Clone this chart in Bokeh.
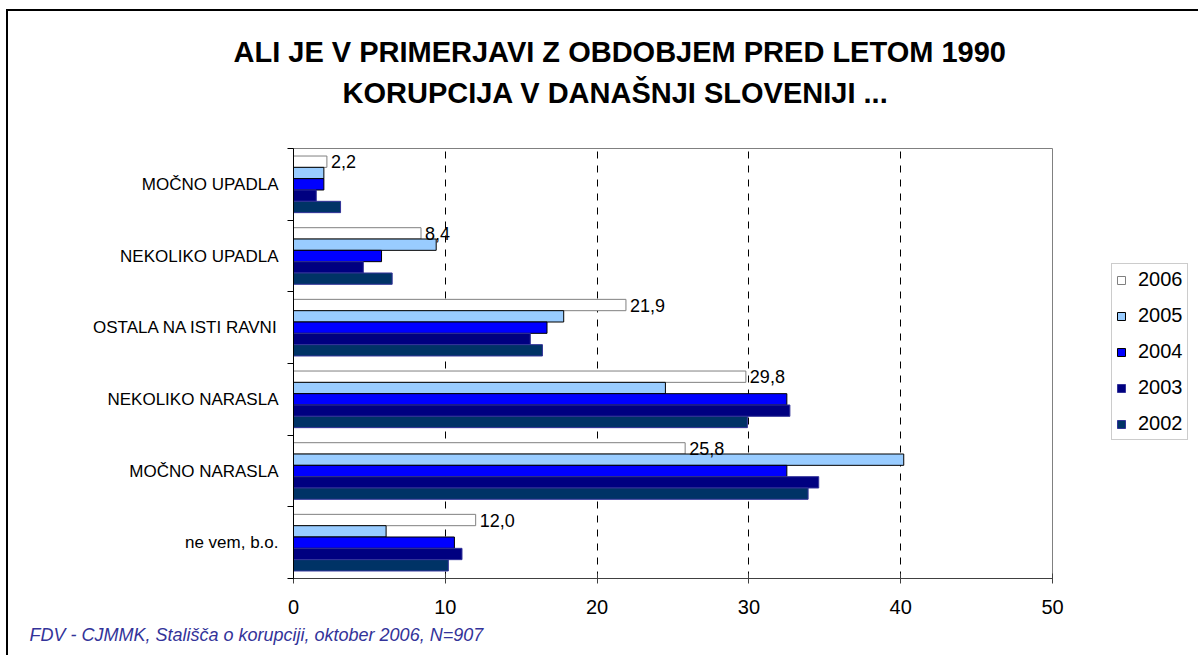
from bokeh.plotting import figure
from bokeh.layouts import row
from bokeh.models import (Range1d, FixedTicker, Legend, LegendItem, Title)
from bokeh.core.properties import value
from bokeh.embed import file_html
from bokeh.resources import INLINE

# ---- data ----
categories = ["MOČNO UPADLA", "NEKOLIKO UPADLA", "OSTALA NA ISTI RAVNI",
              "NEKOLIKO NARASLA", "MOČNO NARASLA", "ne vem, b.o."]
years = ["2006", "2005", "2004", "2003", "2002"]
v2006 = [2.2, 8.4, 21.9, 29.8, 25.8, 12.0]
v2005 = [2.0, 9.4, 17.8, 24.5, 40.2, 6.1]
v2004 = [2.0, 5.8, 16.7, 32.5, 32.5, 10.6]
v2003 = [1.5, 4.6, 15.6, 32.7, 34.6, 11.1]
v2002 = [3.1, 6.5, 16.4, 29.9, 33.9, 10.2]
x_ticks = [0, 10, 20, 30, 40, 50]
title1 = "ALI JE V PRIMERJAVI Z OBDOBJEM PRED LETOM 1990"
title2 = "KORUPCIJA V DANAŠNJI SLOVENIJI ..."
footer = "FDV - CJMMK, Stališča o korupciji, oktober 2006, N=907"

series = [v2006, v2005, v2004, v2003, v2002]
fills = ["#FFFFFF", "#99CCFF", "#0000FF", "#000080", "#003366"]
lines = ["#808080", "#000000", "#000000", "#333399", "#333399"]

FONT = "Liberation Sans"
n = len(categories)
centers = [n - 0.5 - i for i in range(n)]
bar_h = 0.158

p = figure(width=1102, height=644, output_backend="svg", toolbar_location=None,
           x_range=Range1d(0, 50), y_range=Range1d(0, n),
           min_border_left=285, min_border_right=58,
           min_border_top=137, min_border_bottom=77)
p.background_fill_color = "white"
p.border_fill_color = "white"
p.outline_line_color = "#808080"
p.outline_line_width = 1

for j, (yr, vals) in enumerate(zip(years, series)):
    ys = [c + (2 - j) * bar_h for c in centers]
    p.hbar(y=ys, right=vals, left=0, height=bar_h,
           fill_color=fills[j], line_color=lines[j], line_width=1)

# data labels for 2006
ys2006 = [c + 2 * bar_h for c in centers]
lab = [f"{v:.1f}".replace(".", ",") for v in v2006]
p.text(x=v2006, y=ys2006, text=lab, x_offset=4, text_baseline="middle",
       text_align="left", text_font=value(FONT), text_font_size="18px",
       text_color="black")

# x axis
p.xaxis.ticker = FixedTicker(ticks=x_ticks)
p.xaxis.axis_line_color = "#404040"
p.xaxis.major_tick_line_color = "#404040"
p.xaxis.major_tick_in = 5
p.xaxis.major_tick_out = 5
p.xaxis.minor_tick_line_color = None
p.xaxis.major_label_standoff = 16
p.xaxis.major_label_text_font = FONT
p.xaxis.major_label_text_font_size = "20px"
p.xaxis.major_label_text_color = "black"

# y axis: labels at centres, ticks at category boundaries
p.yaxis.ticker = FixedTicker(ticks=centers, minor_ticks=list(range(n + 1)))
p.yaxis.major_label_overrides = {c: categories[i] for i, c in enumerate(centers)}
p.yaxis.major_tick_line_color = None
p.yaxis.major_tick_in = 0
p.yaxis.major_tick_out = 0
p.yaxis.minor_tick_line_color = "black"
p.yaxis.minor_tick_in = 0
p.yaxis.minor_tick_out = 6
p.yaxis.axis_line_color = "black"
p.yaxis.major_label_standoff = 9
p.yaxis.major_label_text_font = FONT
p.yaxis.major_label_text_font_size = "17px"
p.yaxis.major_label_text_color = "black"

# grid
p.ygrid.grid_line_color = None
p.xgrid.ticker = FixedTicker(ticks=[10, 20, 30, 40])
p.xgrid.grid_line_color = "black"
p.xgrid.grid_line_dash = "7 7"
p.xgrid.grid_line_width = 1

# titles (closest to the plot first) and footer
p.add_layout(Title(text=" ", text_font_size="1px", standoff=33), "above")
p.add_layout(Title(text=title2, align="left", offset=49, standoff=8,
                   text_font=FONT, text_font_style="bold", text_font_size="29px",
                   text_color="black"), "above")
p.add_layout(Title(text=title1, align="left", offset=-60, standoff=6,
                   text_font=FONT, text_font_style="bold", text_font_size="29px",
                   text_color="black"), "above")
p.add_layout(Title(text=footer, align="left", offset=-264, standoff=12,
                   text_font=FONT, text_font_style="italic", text_font_size="18px",
                   text_color="#333399"), "below")

# legend panel (separate small figure to the right; its bars lie outside its view)
lf = figure(width=88, height=644, output_backend="svg", toolbar_location=None,
            x_range=Range1d(-2, -1), y_range=Range1d(0, n),
            x_axis_location=None, y_axis_location=None,
            min_border_left=0, min_border_right=0, min_border_top=0, min_border_bottom=0)
lf.grid.visible = False
lf.outline_line_color = None
lf.background_fill_color = "white"
lf.border_fill_color = "white"
leg_r = []
for j, (yr, vals) in enumerate(zip(years, series)):
    ys = [c + (2 - j) * bar_h for c in centers]
    leg_r.append(lf.hbar(y=ys, right=vals, left=0, height=bar_h,
                         fill_color=fills[j], line_color=lines[j], line_width=1))
legend = Legend(items=[LegendItem(label=yr, renderers=[r]) for yr, r in zip(years, leg_r)],
                location=(1, 138), orientation="vertical",
                border_line_color="#999999", border_line_width=1,
                background_fill_color="white", background_fill_alpha=1,
                glyph_width=10, glyph_height=10, label_text_font=FONT,
                label_text_font_size="20px", label_text_color="black",
                label_height=20, spacing=13,
                padding=4, margin=0, label_standoff=12)
lf.add_layout(legend, "center")

layout = row(p, lf, spacing=0)
layout.styles = {"margin-left": "6px", "margin-top": "9px",
                 "border-left": "2px solid #000000", "border-top": "2px solid #000000"}

open("out.html", "w").write(file_html(layout, INLINE))
